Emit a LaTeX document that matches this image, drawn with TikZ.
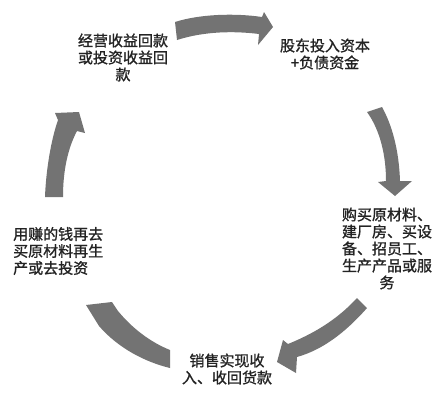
\documentclass[tikz,border=0pt]{standalone}
\usepackage{fontspec}
\newfontfamily\cjk[FakeBold=1.2]{Noto Sans CJK SC}
\definecolor{arrowgray}{RGB}{115,115,115}
\definecolor{txt}{RGB}{35,35,35}
\tikzset{
  lbl/.style={font=\cjk\fontsize{15}{17}\selectfont, text=txt, inner sep=0pt, align=center},
  bigarrow/.style={fill=arrowgray, draw=none}
}
\begin{document}
\begin{tikzpicture}[x=1pt,y=-1pt]
\useasboundingbox (0,0) rectangle (444,400);
% text nodes
\node[lbl] (n1) at (123,57.5) {经营收益回款\\或投资收益回\\款};
\node[lbl] (n2) at (325,54) {股东投入资本\\+负债资金};
\node[lbl] (n3) at (387,248.5) {购买原材料、\\建厂房、买设\\备、招员工、\\生产产品或服\\务};
\node[lbl, align=left, anchor=west] (n4) at (13,251) {用赚的钱再去\\买原材料再生\\产或去投资};
\node[lbl] (n5) at (227,369) {销售实现收\\入、收回货款};
% arrow 1: n1 -> n2
\coordinate (a1s) at (176,31);
\coordinate (a1e) at (273,27);
\fill[bigarrow] (175,22) .. controls (200,14) and (235,13) .. (262,17) -- (264,12) -- (a1e) -- (258,45) -- (259,34) .. controls (235,31) and (205,31) .. (177,40) -- cycle;
% arrow 2: n2 -> n3
\coordinate (a2s) at (375,110);
\coordinate (a2e) at (395,196);
\fill[bigarrow] (367,112) -- (382,107) .. controls (392,125) and (399,150) .. (400,181) -- (412,181) -- (a2e) -- (378,182) -- (386,181) .. controls (386,155) and (380,130) .. (367,112) -- cycle;
% arrow 3: n3 -> n5
\coordinate (a3s) at (362,303);
\coordinate (a3e) at (277,362);
\fill[bigarrow] (357,298) -- (367,308) .. controls (345,333) and (322,350) .. (297,357) -- (296,373) -- (a3e) -- (283,340) -- (288,344) .. controls (310,335) and (335,322) .. (357,298) -- cycle;
% arrow 4: n5 -> n4
\coordinate (a4s) at (170,359);
\coordinate (a4e) at (86,305);
\fill[bigarrow] (170,350) -- (170,368) .. controls (145,362) and (118,348) .. (99,326) -- (a4e) -- (112,302) -- (118,311) .. controls (132,328) and (150,342) .. (170,350) -- cycle;
% arrow 5: n4 -> n1
\coordinate (a5s) at (54,197);
\coordinate (a5e) at (79,112);
\fill[bigarrow] (45,197) -- (63,197) .. controls (63,170) and (68,148) .. (77,131) -- (85,133) -- (a5e) -- (55,113) -- (58,120) .. controls (51,140) and (46,170) .. (45,197) -- cycle;
\end{tikzpicture}
\end{document}
